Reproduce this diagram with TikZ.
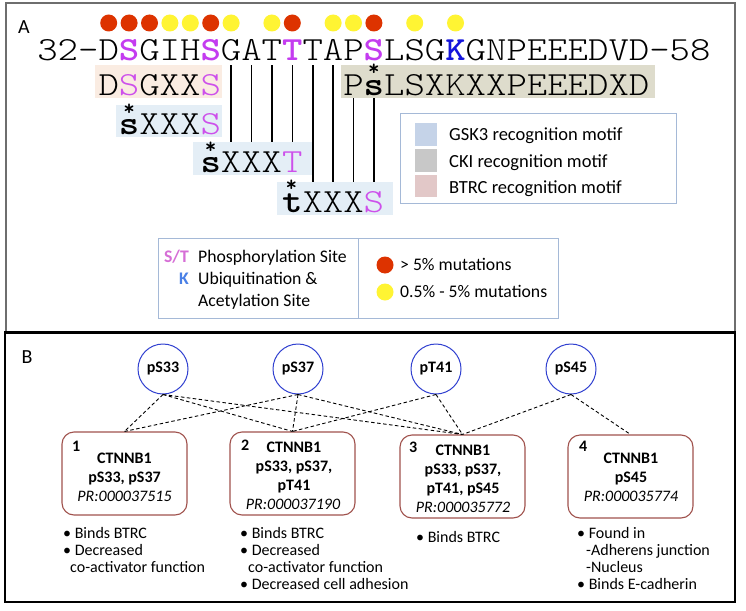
\documentclass[tikz,border=0pt]{standalone}
\usepackage{fontspec}
\usepackage{graphicx}
\newfontfamily\calib{Carlito}
\definecolor{pbold}{RGB}{196,60,240}
\definecolor{plight}{RGB}{205,80,235}
\definecolor{kblue}{RGB}{20,20,220}
\definecolor{dotred}{RGB}{221,51,0}
\definecolor{dotyel}{RGB}{255,244,51}
\definecolor{bgpeach}{RGB}{250,236,226}
\definecolor{bgbeige}{RGB}{222,220,204}
\definecolor{bgblue}{RGB}{228,238,246}
\definecolor{swblue}{RGB}{197,211,232}
\definecolor{swgray}{RGB}{200,200,200}
\definecolor{swpink}{RGB}{226,200,200}
\definecolor{legframe}{RGB}{165,185,215}
\definecolor{stpink}{RGB}{214,110,214}
\definecolor{klight}{RGB}{74,128,230}
\definecolor{circblue}{RGB}{48,64,208}
\definecolor{boxbrown}{RGB}{160,82,77}
\definecolor{frameA}{RGB}{110,110,110}
\newcommand\seqf{\fontfamily{lmtt}\fontseries{l}\fontshape{n}\fontsize{38.86}{40}\selectfont}
\newcommand\sqt[1]{\scalebox{1}[0.87]{\seqf #1}}
\newcommand\pbS[1]{{\fontseries{b}\selectfont\color{pbold}#1}}
\newcommand\kbS[1]{{\fontseries{b}\selectfont\color{kblue}#1}}
\newcommand\plS[1]{{\color{plight}#1}}
\newcommand\bcS[1]{{\fontseries{b}\selectfont #1}}
\begin{document}
\begin{tikzpicture}[x=1pt,y=-1pt,
  seqtxt/.style={inner sep=0pt,outer sep=0pt,anchor=base west},
  ast/.style={inner sep=0pt,font=\fontfamily{lmtt}\fontseries{b}\fontshape{n}\fontsize{22}{22}\selectfont},
  vline/.style={line width=1.6pt,draw=black},
  leg/.style={inner sep=0pt,anchor=base west,font=\calib\fontsize{18.5}{20}\selectfont},
  legb/.style={inner sep=0pt,anchor=base west,font=\calib\fontsize{17.7}{20}\selectfont},
  legc/.style={inner sep=0pt,anchor=base east,font=\calib\bfseries\fontsize{17.7}{20}\selectfont},
  pc/.style={circle,draw=circblue,line width=1pt,minimum size=50pt,inner sep=0pt,font=\calib\bfseries\fontsize{16}{18}\selectfont},
  prbox/.style={draw=boxbrown,line width=1.1pt,rounded corners=12pt,minimum width=125pt,minimum height=83pt,inner sep=0pt},
  bt/.style={inner sep=0pt,anchor=base,font=\calib\fontsize{16}{18}\selectfont},
  bn/.style={inner sep=0pt,anchor=base west,font=\calib\bfseries\fontsize{16}{18}\selectfont},
  bl/.style={inner sep=0pt,anchor=base west,font=\calib\fontsize{16}{18}\selectfont},
  conn/.style={dash pattern=on 3.5pt off 2.5pt,line width=0.9pt},
  panel/.style={font=\calib\fontsize{20}{20}\selectfont,inner sep=0pt}
]
\useasboundingbox (0,0) rectangle (746,610);
\fill[white] (0,0) rectangle (746,610);
% frames
\draw[frameA,line width=1.5pt] (6,332) -- (6,3) -- (735,3) -- (735,332);
\draw[black,line width=1.5pt] (5,332) -- (5,602) -- (735,602) -- (735,332);
\draw[black,line width=3pt] (4,332) -- (736,332);
\node[panel] (labA) at (24,27) {A};
\node[panel] (labB) at (27,357) {B};
% mutation dots
\foreach \k/\c in {3/dotred,4/dotred,5/dotred,6/dotyel,7/dotyel,8/dotred,9/dotyel,11/dotyel,12/dotred,14/dotyel,15/dotyel,16/dotred,18/dotyel,20/dotyel}
  \fill[\c] ({47.5+20.4*\k},23) circle (8.5);
% motif backgrounds
\fill[bgpeach] (95,65) rectangle (222,98);
\fill[bgbeige] (341,65) rectangle (655,98);
\fill[bgblue] (116,105) rectangle (222,137);
\fill[bgblue] (193,142) rectangle (313,175);
\fill[bgblue] (277,182) rectangle (393,215);
% vertical lines
\foreach \x in {231.1,251.5,271.9,292.3} \draw[vline] (\x,65) -- (\x,142);
\foreach \x in {312.7,333.1} \draw[vline] (\x,65) -- (\x,182);
\foreach \x in {353.5,373.9} \draw[vline] (\x,98) -- (\x,182);
% sequence and motifs
\node[seqtxt] (seq) at (37.3,60) {\sqt{32-D\pbS{S}GIH\pbS{S}GAT\pbS{T}TAP\pbS{S}LSG\kbS{K}GNPEEEDVD-58}};
\node[seqtxt] (m2a) at (98.5,95) {\sqt{D\plS{S}GXX\plS{S}}};
\node[seqtxt] (m2p) at (343.3,95) {\sqt{P}};
\node[seqtxt] (m2s) at (363.7,95) {\sqt{\bcS{s}}};
\node[seqtxt] (m2r) at (384.1,95) {\sqt{LSXKXXPEEEDXD}};
\node[seqtxt] (m3s) at (118.9,134) {\sqt{\bcS{s}}};
\node[seqtxt] (m3r) at (139.3,134) {\sqt{XXX\plS{S}}};
\node[seqtxt] (m4s) at (200.5,172) {\sqt{\bcS{s}}};
\node[seqtxt] (m4r) at (220.9,172) {\sqt{XXX\plS{T}}};
\node[seqtxt] (m5s) at (282.1,212) {\sqt{\bcS{t}}};
\node[seqtxt] (m5r) at (302.5,212) {\sqt{XXX\plS{S}}};
\node[ast] (a2) at (373.9,70) {*};
\node[ast] (a3) at (129.1,110) {*};
\node[ast] (a4) at (210.7,148) {*};
\node[ast] (a5) at (291.3,186) {*};
% legend 1
\draw[legframe,line width=0.8pt] (400,113) rectangle (676,203);
\fill[swblue] (415,123) rectangle (437,146);
\fill[swgray] (415,149) rectangle (437,172);
\fill[swpink] (415,175) rectangle (437,197);
\node[leg] (lg1) at (449,140) {GSK3 recognition motif};
\node[leg] (lg2) at (449,167) {CKI recognition motif};
\node[leg] (lg3) at (449,193) {BTRC recognition motif};
% legend 2
\draw[legframe,line width=0.8pt] (158,238) rectangle (558,318);
\draw[legframe,line width=0.8pt] (358,238) -- (358,318);
\node[legc,text=stpink] (st) at (189,262) {S/T};
\node[legb] (st2) at (198,262) {Phosphorylation Site};
\node[legc,text=klight] (kk) at (189,284) {K};
\node[legb] (k2) at (198,284) {Ubiquitination \&};
\node[legb] (k3) at (198,306) {Acetylation Site};
\fill[dotred] (385,265) circle (8.5);
\node[legb] (mu1) at (400,270) {> 5\% mutations};
\fill[dotyel] (385,292) circle (8.5);
\node[legb] (mu2) at (400,297) {0.5\% - 5\% mutations};
% panel B
\node[pc] (p33) at (163,369) {pS33};
\node[pc] (p37) at (298,369) {pS37};
\node[pc] (p41) at (436,369) {pT41};
\node[pc] (p45) at (571,369) {pS45};
\node[prbox] (b1) at (124.5,473.5) {};
\node[prbox] (b2) at (292.5,473.5) {};
\node[prbox] (b3) at (462.5,476.5) {};
\node[prbox] (b4) at (630.5,476.5) {};
\draw[conn] (p33.south) -- (b1.north);
\draw[conn] (p33.south) -- (b2.north);
\draw[conn] (p33.south) -- (b3.north);
\draw[conn] (p37.south) -- (b1.north);
\draw[conn] (p37.south) -- (b2.north);
\draw[conn] (p37.south) -- (b3.north);
\draw[conn] (p41.south) -- (b2.north);
\draw[conn] (p41.south) -- (b3.north);
\draw[conn] (p45.south) -- (b3.north);
\draw[conn] (p45.south) -- (b4.north);
% box 1
\node[bn] (n1) at (72,451) {1};
\node[bt] (t1a) at (124.5,463) {\bfseries CTNNB1};
\node[bt] (t1b) at (124.5,482) {\bfseries pS33, pS37};
\node[bt] (t1c) at (124.5,501) {\itshape PR:000037515};
% box 2
\node[bn] (n2) at (241,450) {2};
\node[bt] (t2a) at (294,452) {\bfseries CTNNB1};
\node[bt] (t2b) at (294,471) {\bfseries pS33, pS37,};
\node[bt] (t2c) at (294,490) {\bfseries pT41};
\node[bt] (t2d) at (293,509) {\itshape PR:000037190};
% box 3
\node[bn] (n3) at (409,452) {3};
\node[bt] (t3a) at (463,455) {\bfseries CTNNB1};
\node[bt] (t3b) at (463,474) {\bfseries pS33, pS37,};
\node[bt] (t3c) at (463,493) {\bfseries pT41, pS45};
\node[bt] (t3d) at (463,512) {\itshape PR:000035772};
% box 4
\node[bn] (n4) at (579,451) {4};
\node[bt] (t4a) at (631,463) {\bfseries CTNNB1};
\node[bt] (t4b) at (631,482) {\bfseries pS45};
\node[bt] (t4c) at (631,501) {\itshape PR:000035774};
% lists
\node[bl] (l1a) at (63,538) {• Binds BTRC};
\node[bl] (l1b) at (63,555) {• Decreased};
\node[bl] (l1c) at (70,572) {co-activator function};
\node[bl] (l2a) at (240,538) {• Binds BTRC};
\node[bl] (l2b) at (240,555) {• Decreased};
\node[bl] (l2c) at (248,572) {co-activator function};
\node[bl] (l2d) at (240,589) {• Decreased cell adhesion};
\node[bl] (l3a) at (416,542) {• Binds BTRC};
\node[bl] (l4a) at (577,538) {• Found in};
\node[bl] (l4b) at (586,555) {-Adherens junction};
\node[bl] (l4c) at (586,572) {-Nucleus};
\node[bl] (l4d) at (577,589) {• Binds E-cadherin};
\end{tikzpicture}
\end{document}
